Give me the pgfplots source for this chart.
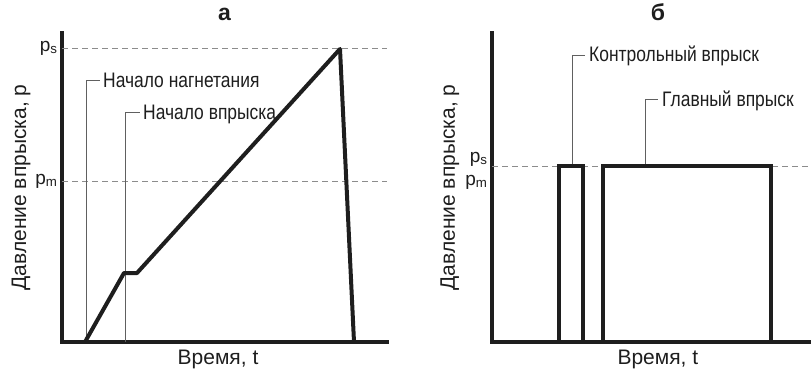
\documentclass[border=0pt]{standalone}
\usepackage{fontspec}
\setmainfont{Liberation Sans}
\newfontfamily\narrowfont{Liberation Sans}[FakeStretch=0.83]
\usepackage{pgfplots}
\pgfplotsset{compat=1.18}
\definecolor{ink}{HTML}{1E1E1E}
\definecolor{dashc}{HTML}{8C8C8C}
\definecolor{lead}{HTML}{606060}
\tikzset{ann/.style={anchor=base west, inner sep=0pt, text=ink, font=\narrowfont\fontsize{21}{24}\selectfont}}
\begin{document}
\begin{tikzpicture}
\path[use as bounding box] (0,0) rectangle (811pt,373pt);
\pgfplotsset{
 pan/.style={scale only axis, anchor=south west, xmin=0, ymin=0, ymax=309,
  axis lines=left, axis line style={-, line width=3.6pt, ink, line cap=rect},
  xtick=\empty, major tick length=0pt, clip=false,
  tick label style={font=\fontsize{19}{21}\selectfont, text=ink},
  yticklabel style={xshift=-1pt},
  label style={font=\fontsize{21}{24}\selectfont, text=ink},
  title style={font=\fontsize{23}{26}\selectfont\bfseries, text=ink, anchor=south, yshift=2.5pt},
  xlabel style={anchor=north, yshift=-5pt},
  ylabel style={anchor=center}},
 dashl/.style={dashc, line width=0.9pt, dash pattern=on 6pt off 4pt},
 leadl/.style={lead, line width=0.8pt},
 thick curve/.style={ink, line width=4pt}
}
% Panel a
\begin{axis}[pan, at={(62pt,31pt)}, width=325pt, height=309pt, xmax=325,
  ytick={161,294}, yticklabels={p\textsubscript{m},p\textsubscript{s}},
  title={а}, title style={at={(axis description cs:0.5,1)}},
  xlabel={Время, t}, xlabel style={at={(axis description cs:0.48,0)}},
  ylabel={Давление впрыска, p}, ylabel style={at={(axis description cs:-0.126,0.5)}}]
\addplot[dashl] coordinates {(0,294) (325,294)};
\addplot[dashl] coordinates {(0,161) (325,161)};
\addplot[leadl] coordinates {(24,0) (24,262) (38,262)};
\addplot[leadl] coordinates {(63,0) (63,230) (78,230)};
\addplot[thick curve, line join=round] coordinates {(23,0) (62,69) (75,69) (278,293) (292,0)};
\node[ann] at (axis cs:41,255) {Начало нагнетания};
\node[ann] at (axis cs:81,223) {Начало впрыска};
\end{axis}
% Panel b
\begin{axis}[pan, at={(492pt,31pt)}, width=319pt, height=309pt, xmax=319,
  ytick={160,183}, yticklabels={p\textsubscript{m},p\textsubscript{s}},
  title={б}, title style={at={(axis description cs:0.52,1)}},
  xlabel={Время, t}, xlabel style={at={(axis description cs:0.52,0)}},
  ylabel={Давление впрыска, p}, ylabel style={at={(axis description cs:-0.132,0.5)}}]
\addplot[dashl] coordinates {(0,176) (319,176)};
\addplot[leadl] coordinates {(80,176) (80,287) (93,287)};
\addplot[leadl] coordinates {(153,176) (153,243) (166,243)};
\addplot[thick curve, line join=miter] coordinates {(0,0) (67,0) (67,176) (91,176) (91,0) (111,0) (111,176) (279,176) (279,0) (319,0)};
\node[ann] at (axis cs:97,280) {Контрольный впрыск};
\node[ann] at (axis cs:170,236) {Главный впрыск};
\end{axis}
\end{tikzpicture}
\end{document}
